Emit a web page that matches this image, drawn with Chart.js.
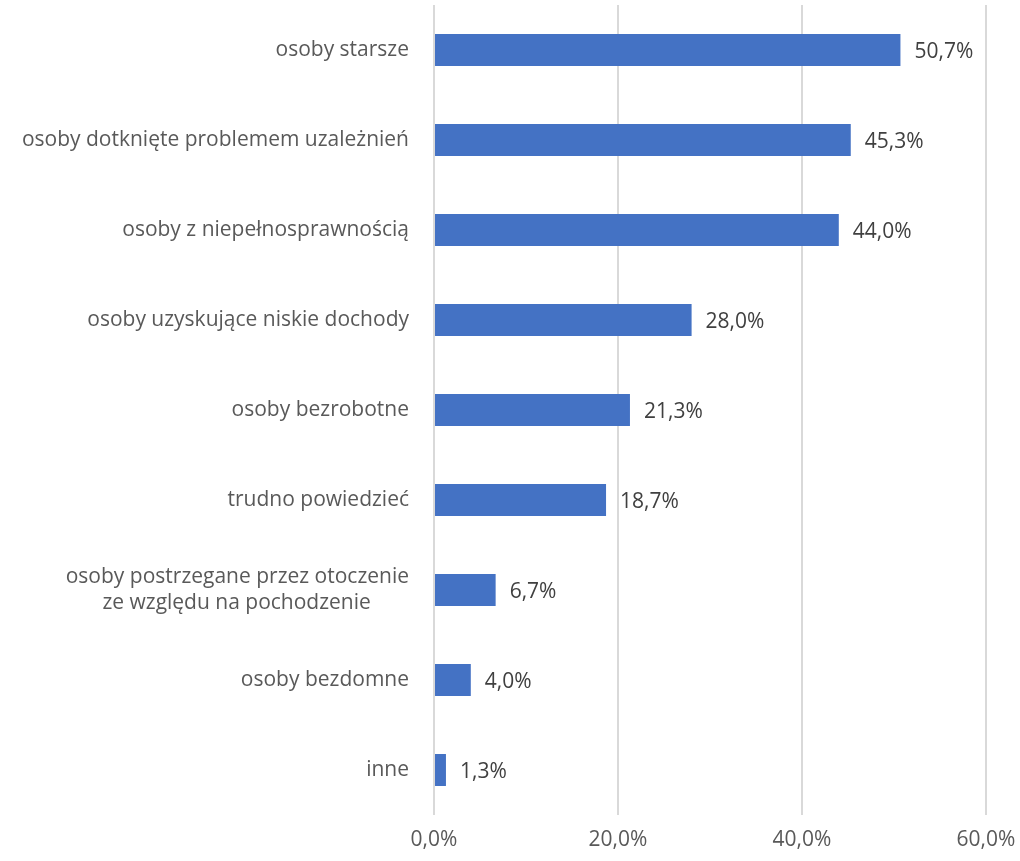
<!DOCTYPE html>
<html lang="pl">
<head>
    <meta charset="UTF-8">
    <title>Grupy osób</title>
    <script src="https://cdn.jsdelivr.net/npm/chart.js"></script>
    <style>
        html, body {
            margin: 0;
            padding: 0;
            background: #ffffff;
        }
        #chartContainer {
            width: 1020px;
            height: 861px;
        }
    </style>
</head>
<body>
    <div id="chartContainer">
        <canvas id="groupsChart"></canvas>
    </div>

    <script>
        const categories = [
            'osoby starsze',
            'osoby dotknięte problemem uzależnień',
            'osoby z niepełnosprawnością',
            'osoby uzyskujące niskie dochody',
            'osoby bezrobotne',
            'trudno powiedzieć',
            // second line padded so both lines look centred, as in the original
            ['osoby postrzegane przez otoczenie', 'ze względu na pochodzenie\u00a0\u00a0\u00a0\u00a0\u00a0\u00a0\u00a0'],
            'osoby bezdomne',
            'inne'
        ];
        const shares = [50.7, 45.3, 44.0, 28.0, 21.3, 18.7, 6.7, 4.0, 1.3];
        const xTicks = [0, 20, 40, 60];

        const fontFamily = '"Open Sans", "Noto Sans", sans-serif';
        const pct = v => v.toFixed(1).replace('.', ',') + '%';

        // simple value labels at the end of each bar
        const valueLabels = {
            id: 'valueLabels',
            afterDatasetsDraw(chart) {
                const ctx = chart.ctx;
                const meta = chart.getDatasetMeta(0);
                ctx.save();
                ctx.font = '21px ' + fontFamily;
                ctx.fillStyle = '#404040';
                ctx.textAlign = 'left';
                ctx.textBaseline = 'middle';
                meta.data.forEach((bar, i) => {
                    ctx.fillText(pct(shares[i]), bar.x + 14, bar.y + 2);
                });
                ctx.restore();
            }
        };

        const ctx = document.getElementById('groupsChart').getContext('2d');
        new Chart(ctx, {
            type: 'bar',
            data: {
                labels: categories,
                datasets: [{
                    data: shares,
                    backgroundColor: '#4472c4',
                    categoryPercentage: 1,
                    barPercentage: 0.355
                }]
            },
            options: {
                indexAxis: 'y',
                responsive: true,
                maintainAspectRatio: false,
                animation: false,
                layout: {
                    padding: { top: 5, right: 0, bottom: 0, left: 0 }
                },
                scales: {
                    x: {
                        min: 0,
                        max: 60,
                        afterBuildTicks(axis) {
                            axis.ticks = xTicks.map(v => ({ value: v }));
                        },
                        grid: {
                            color: '#d9d9d9',
                            lineWidth: 2,
                            drawTicks: false
                        },
                        border: { display: false },
                        ticks: {
                            padding: 12,
                            color: '#595959',
                            font: { family: fontFamily, size: 21 },
                            callback: v => pct(v)
                        },
                        afterFit(axis) {
                            axis.height = 46;
                            axis.paddingLeft = 0;
                            axis.paddingRight = 34;
                        }
                    },
                    y: {
                        grid: { display: false },
                        border: { display: false },
                        ticks: {
                            padding: 17,
                            color: '#595959',
                            font: { family: fontFamily, size: 21, lineHeight: 1.25 }
                        },
                        afterFit(axis) {
                            axis.width = 434;
                            axis.paddingTop = 0;
                            axis.paddingBottom = 0;
                        }
                    }
                },
                plugins: {
                    legend: { display: false },
                    tooltip: { enabled: false }
                }
            },
            plugins: [valueLabels]
        });
    </script>
</body>
</html>
